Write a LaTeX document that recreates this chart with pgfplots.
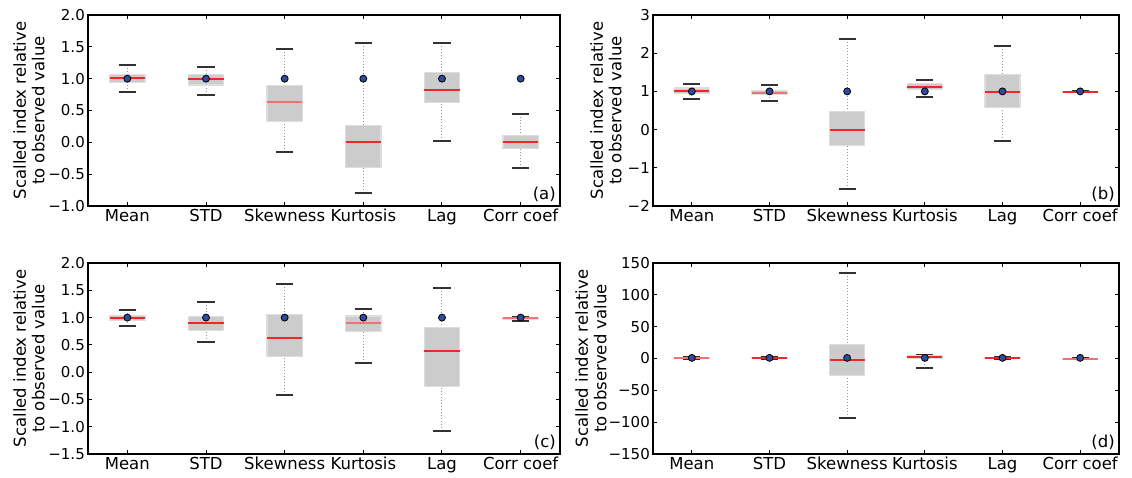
\documentclass[border=0pt]{standalone}
\usepackage{fontspec}
\setmainfont{DejaVu Sans}
\usepackage{pgfplots}
\pgfplotsset{compat=1.18}
\usepgfplotslibrary{statistics}
\definecolor{boxgray}{RGB}{204,204,204}
\definecolor{boxedge}{RGB}{222,222,222}
\definecolor{capgray}{RGB}{50,50,50}
\definecolor{whiskgray}{RGB}{150,150,150}
\definecolor{dotblue}{RGB}{45,75,160}
\definecolor{medA}{RGB}{238,40,40}
\definecolor{medB}{RGB}{238,115,115}

\pgfplotsset{
  boxplot/draw/lower whisker/.code={%
    \draw[whiskgray, line width=1pt, dotted]
      (boxplot box cs:\pgfplotsboxplotvalue{lower whisker},0.5) --
      (boxplot box cs:\pgfplotsboxplotvalue{lower quartile},0.5);
    \draw[capgray, line width=2pt]
      (boxplot whisker cs:\pgfplotsboxplotvalue{lower whisker},0) --
      (boxplot whisker cs:\pgfplotsboxplotvalue{lower whisker},1);
  },
  boxplot/draw/upper whisker/.code={%
    \draw[whiskgray, line width=1pt, dotted]
      (boxplot box cs:\pgfplotsboxplotvalue{upper whisker},0.5) --
      (boxplot box cs:\pgfplotsboxplotvalue{upper quartile},0.5);
    \draw[capgray, line width=2pt]
      (boxplot whisker cs:\pgfplotsboxplotvalue{upper whisker},0) --
      (boxplot whisker cs:\pgfplotsboxplotvalue{upper whisker},1);
  },
  panel/.style={
    scale only axis,
    width=#1,
    height=191pt,
    xmin=0.5, xmax=6.5,
    xtick={1,2,3,4,5,6},
    xticklabels={Mean,STD,Skewness,Kurtosis,Lag,Corr coef},
    tick align=inside,
    major tick length=4pt,
    major tick style={line width=1pt, black},
    axis line style={line width=1.4pt},
    x tick label style={font=\fontsize{16.5}{19}\selectfont, inner sep=2pt, yshift=-1pt},
    y tick label style={font=\fontsize{15}{18}\selectfont, inner sep=3pt},
    every axis y label/.style={at={(axis description cs:0,0.5)}, anchor=center, rotate=90,
      align=center, font=\fontsize{16.5}{18.5}\selectfont},
    boxplot/draw direction=y,
    boxplot/every box/.style={fill=boxgray, draw=boxedge, line width=1.2pt},
    clip=false,
  },
}
\newcommand{\bx}[7]{%
  \addplot[boxplot prepared={draw position=#1, lower whisker=#2, lower quartile=#3,
    median=#4, upper quartile=#5, upper whisker=#6, box extend=0.45, whisker extend=0.22},
    boxplot/every median/.style={draw=#7, line width=2pt}] coordinates {};}

\begin{document}
\begin{tikzpicture}
\path[use as bounding box] (0,0) rectangle (1132pt,477pt);

% (a)
\begin{axis}[panel=472pt, at={(88pt,271pt)}, anchor=south west,
  ymin=-1, ymax=2, ytick={-1,-0.5,0,0.5,1,1.5,2},
  yticklabels={−1.0,−0.5,0.0,0.5,1.0,1.5,2.0},
  ylabel={Scalled index relative\\to observed value},
  ylabel style={yshift=59pt}]
\bx{1}{0.79}{0.94}{1.01}{1.07}{1.21}{medA}
\bx{2}{0.75}{0.90}{0.99}{1.07}{1.19}{medA}
\bx{3}{-0.15}{0.33}{0.64}{0.89}{1.47}{medB}
\bx{4}{-0.795}{-0.40}{0.0}{0.265}{1.56}{medA}
\bx{5}{0.02}{0.63}{0.82}{1.10}{1.565}{medA}
\bx{6}{-0.41}{-0.10}{0.01}{0.11}{0.45}{medA}
\addplot[only marks, mark=*, mark size=3.5pt, mark options={fill=dotblue, draw=black, line width=0.8pt}]
  coordinates {(1,1) (2,1) (3,1) (4,1) (5,1) (6,1)};
\node[anchor=south east, inner sep=0pt, font=\fontsize{16.5}{19}\selectfont] at (rel axis cs:1,0) [xshift=-4pt, yshift=4pt] {(a)};
\end{axis}

% (b)
\begin{axis}[panel=466pt, at={(653pt,271pt)}, anchor=south west,
  ymin=-2, ymax=3, ytick={-2,-1,0,1,2,3},
  yticklabels={−2,−1,0,1,2,3},
  ylabel={Scalled index relative\\to observed value},
  ylabel style={yshift=47pt}]
\bx{1}{0.81}{0.94}{1.02}{1.09}{1.20}{medA}
\bx{2}{0.755}{0.91}{0.965}{1.03}{1.16}{medB}
\bx{3}{-1.55}{-0.42}{-0.02}{0.47}{2.37}{medA}
\bx{4}{0.86}{1.04}{1.12}{1.21}{1.29}{medA}
\bx{5}{-0.30}{0.58}{0.98}{1.45}{2.19}{medA}
\bx{6}{0.975}{0.98}{0.99}{1.00}{1.005}{medA}
\addplot[only marks, mark=*, mark size=3.5pt, mark options={fill=dotblue, draw=black, line width=0.8pt}]
  coordinates {(1,1) (2,1) (3,1) (4,1) (5,1) (6,1)};
\node[anchor=south east, inner sep=0pt, font=\fontsize{16.5}{19}\selectfont] at (rel axis cs:1,0) [xshift=-4pt, yshift=4pt] {(b)};
\end{axis}

% (c)
\begin{axis}[panel=472pt, at={(88pt,23pt)}, anchor=south west,
  ymin=-1.5, ymax=2, ytick={-1.5,-1,-0.5,0,0.5,1,1.5,2},
  yticklabels={−1.5,−1.0,−0.5,0.0,0.5,1.0,1.5,2.0},
  ylabel={Scalled index relative\\to observed value},
  ylabel style={yshift=59pt}]
\bx{1}{0.85}{0.94}{0.99}{1.035}{1.145}{medA}
\bx{2}{0.55}{0.77}{0.895}{1.02}{1.285}{medA}
\bx{3}{-0.425}{0.28}{0.63}{1.05}{1.615}{medA}
\bx{4}{0.175}{0.74}{0.90}{1.03}{1.15}{medB}
\bx{5}{-1.07}{-0.26}{0.39}{0.82}{1.55}{medA}
\bx{6}{0.94}{0.97}{0.985}{1.00}{1.005}{medB}
\addplot[only marks, mark=*, mark size=3.5pt, mark options={fill=dotblue, draw=black, line width=0.8pt}]
  coordinates {(1,1) (2,1) (3,1) (4,1) (5,1) (6,1)};
\node[anchor=south east, inner sep=0pt, font=\fontsize{16.5}{19}\selectfont] at (rel axis cs:1,0) [xshift=-4pt, yshift=4pt] {(c)};
\end{axis}

% (d)
\begin{axis}[panel=466pt, at={(653pt,23pt)}, anchor=south west,
  ymin=-150, ymax=150, ytick={-150,-100,-50,0,50,100,150},
  yticklabels={−150,−100,−50,0,50,100,150},
  ylabel={Scalled index relative\\to observed value},
  ylabel style={yshift=62pt}]
\bx{1}{-1.5}{-0.5}{0.5}{1.8}{2.5}{medB}
\bx{2}{-0.5}{0.2}{1.0}{1.8}{2.5}{medA}
\bx{3}{-92.7}{-27}{-1.8}{22.3}{133.7}{medA}
\bx{4}{-15.5}{0.5}{2.5}{4}{5}{medA}
\bx{5}{-1.5}{-0.5}{0.5}{1.8}{2.5}{medA}
\bx{6}{-1.2}{-0.8}{-0.3}{0.5}{0.8}{medB}
\addplot[only marks, mark=*, mark size=3.5pt, mark options={fill=dotblue, draw=black, line width=0.8pt}]
  coordinates {(1,1) (2,1) (3,1) (4,1) (5,1) (6,1)};
\node[anchor=south east, inner sep=0pt, font=\fontsize{16.5}{19}\selectfont] at (rel axis cs:1,0) [xshift=-4pt, yshift=4pt] {(d)};
\end{axis}
\end{tikzpicture}
\end{document}
